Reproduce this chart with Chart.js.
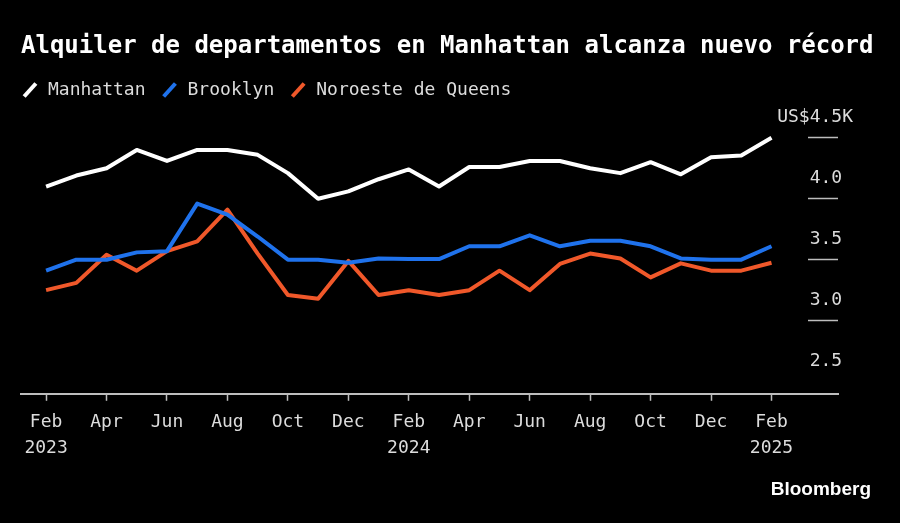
<!DOCTYPE html>
<html>
<head>
<meta charset="utf-8">
<script src="https://cdn.jsdelivr.net/npm/chart.js@4.4.1/dist/chart.umd.min.js"></script>
<style>
    html, body { margin: 0; padding: 0; background: #000; }
    #wrap { position: relative; width: 900px; height: 523px; overflow: hidden; background: #000; }
    #title {
        position: absolute; left: 21px; top: 30px; margin: 0;
        font: bold 24px "DejaVu Sans Mono", monospace;
        color: #fff; white-space: nowrap; line-height: 30px;
    }
    #source {
        position: absolute; right: 29px; top: 478px;
        font: bold 19px "Liberation Sans", Arial, sans-serif; color: #fff;
    }
    #chart { position: absolute; left: 0; top: 0; }
</style>
</head>
<body>
<div id="wrap">
    <canvas id="chart" width="900" height="523"></canvas>
    <h1 id="title">Alquiler de departamentos en Manhattan alcanza nuevo récord</h1>
    <div id="source">Bloomberg</div>
</div>
<script>
// meses: feb 2023 - feb 2025
const months = ['Feb 2023', 'Mar 2023', 'Apr 2023', 'May 2023', 'Jun 2023', 'Jul 2023', 'Aug 2023',
    'Sep 2023', 'Oct 2023', 'Nov 2023', 'Dec 2023', 'Jan 2024', 'Feb 2024', 'Mar 2024', 'Apr 2024',
    'May 2024', 'Jun 2024', 'Jul 2024', 'Aug 2024', 'Sep 2024', 'Oct 2024', 'Nov 2024', 'Dec 2024',
    'Jan 2025', 'Feb 2025'];

// alquiler medio, miles de US$
const manhattan = [4.10, 4.19, 4.25, 4.40, 4.31, 4.40, 4.40, 4.36, 4.21, 4.00, 4.06, 4.16, 4.24,
    4.10, 4.26, 4.26, 4.31, 4.31, 4.25, 4.21, 4.30, 4.20, 4.34, 4.355, 4.50];
const brooklyn = [3.41, 3.50, 3.50, 3.56, 3.57, 3.96, 3.87, 3.69, 3.50, 3.50, 3.475, 3.51, 3.505,
    3.505, 3.61, 3.61, 3.70, 3.61, 3.655, 3.655, 3.61, 3.51, 3.50, 3.50, 3.61];
const queens = [3.25, 3.31, 3.54, 3.41, 3.57, 3.65, 3.91, 3.55, 3.21, 3.18, 3.49, 3.21, 3.25,
    3.21, 3.25, 3.41, 3.25, 3.465, 3.55, 3.51, 3.355, 3.47, 3.41, 3.41, 3.475];

const xTicks = [0, 2, 4, 6, 8, 10, 12, 14, 16, 18, 20, 22, 24];
const xTickLabels = [['Feb', '2023'], 'Apr', 'Jun', 'Aug', 'Oct', 'Dec', ['Feb', '2024'], 'Apr', 'Jun',
    'Aug', 'Oct', 'Dec', ['Feb', '2025']];
const yTicks = [2.5, 3.0, 3.5, 4.0, 4.5];
const yTickLabels = ['2.5 ', '3.0 ', '3.5 ', '4.0 ', 'US$4.5K'];

const seriesNames = ['Manhattan', 'Brooklyn', 'Noroeste de Queens'];
const seriesColors = ['#ffffff', '#1f72ec', '#f0582a'];

const mono = '"DejaVu Sans Mono", monospace';

function toPoints(values) {
    return values.map((v, i) => ({ x: i, y: v }));
}

const datasets = [manhattan, brooklyn, queens].map((values, i) => ({
    label: seriesNames[i],
    data: toPoints(values),
    yAxisID: 'y',
    borderColor: seriesColors[i],
    backgroundColor: seriesColors[i],
    borderWidth: 4,
    pointRadius: 0,
    pointHoverRadius: 0,
    pointStyle: 'line',
    pointRotation: -48,
    borderJoinStyle: 'round',
    borderCapStyle: 'butt',
    tension: 0
}));

new Chart(document.getElementById('chart'), {
    type: 'line',
    data: { datasets: datasets },
    options: {
        responsive: false,
        animation: false,
        events: [],
        layout: { padding: { top: 66, left: 6, right: 62, bottom: 54 } },
        plugins: {
            tooltip: { enabled: false },
            legend: {
                position: 'top',
                align: 'start',
                labels: {
                    color: '#dcdcdc',
                    font: { family: mono, size: 18 },
                    usePointStyle: true,
                    boxWidth: 18,
                    boxHeight: 12.4,
                    padding: 15
                }
            }
        },
        scales: {
            x: {
                type: 'linear',
                min: -0.83,
                max: 26.2,
                afterBuildTicks: scale => { scale.ticks = xTicks.map(v => ({ value: v })); },
                ticks: {
                    color: '#dcdcdc',
                    font: { family: mono, size: 18, lineHeight: 1.45 },
                    padding: 8,
                    maxRotation: 0,
                    autoSkip: false,
                    callback: (value) => xTickLabels[xTicks.indexOf(value)]
                },
                grid: {
                    drawOnChartArea: false,
                    drawTicks: true,
                    tickLength: 7,
                    tickWidth: 1.5,
                    tickColor: '#bdbdbd'
                },
                border: { display: true, color: '#bdbdbd', width: 2 }
            },
            y: {
                position: 'right',
                min: 2.4,
                max: 4.736,
                afterBuildTicks: scale => { scale.ticks = yTicks.map(v => ({ value: v })); },
                ticks: {
                    color: '#dcdcdc',
                    font: { family: mono, size: 18 },
                    mirror: true,
                    crossAlign: 'near',
                    padding: 15,
                    labelOffset: -20,
                    callback: (value) => yTickLabels[yTicks.indexOf(value)]
                },
                grid: {
                    drawOnChartArea: false,
                    drawTicks: true,
                    tickLength: -30,
                    tickWidth: 1.5,
                    tickColor: ctx => (ctx.tick && ctx.tick.value === 2.5) ? 'rgba(0,0,0,0)' : '#bdbdbd'
                },
                border: { display: false }
            },
            // eje vacio solo para separar el area del borde izquierdo
            yLeft: {
                type: 'linear',
                position: 'left',
                ticks: { display: false },
                grid: { drawOnChartArea: false, drawTicks: true, tickLength: 15, tickColor: 'rgba(0,0,0,0)' },
                border: { display: false }
            }
        }
    }
});
</script>
</body>
</html>
